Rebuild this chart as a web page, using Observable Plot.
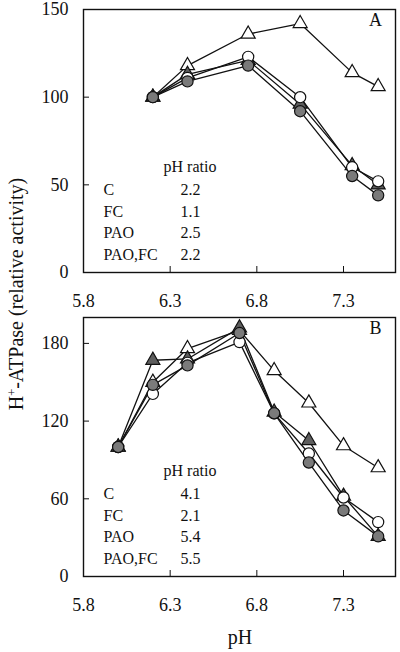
<!DOCTYPE html>
<html><head><meta charset="utf-8">
<script src="https://cdn.jsdelivr.net/npm/d3@7"></script>
<script src="https://cdn.jsdelivr.net/npm/@observablehq/plot@0.6"></script>
<style>
body{margin:0;background:#fff}
#wrap{position:relative;width:400px;height:652px;font-family:"Liberation Serif",serif;color:#111;overflow:hidden}
#a,#b{position:absolute;left:0}
#a{top:0}
#b{top:312px}
#ytitle{position:absolute;left:16px;top:294px;transform:translate(-50%,-50%) rotate(-90deg);white-space:nowrap;font-size:20px;line-height:1}
#ytitle sup{font-size:0.62em;vertical-align:0.55em;line-height:0}
#xtitle{position:absolute;left:240px;top:637px;transform:translate(-50%,-50%);font-size:20px;line-height:1}
</style></head><body>
<div id="wrap"><div id="a"></div><div id="b"></div>
<div id="ytitle">H<sup>+</sup>-ATPase (relative activity)</div>
<div id="xtitle">pH</div></div>
<script>
// Panel A
const pHA = [6.2, 6.4, 6.75, 7.05, 7.35, 7.5];
const aOpenTriangle = [100, 118, 136, 142, 114, 106];
const aFilledTriangle = [100, 113, 121, 96, 61, 50];
const aOpenCircle = [100, 111, 123, 100, 60, 52];
const aFilledCircle = [100, 109, 118, 92, 55, 44];
// Panel B
const pHB = [6.0, 6.2, 6.4, 6.7, 6.9, 7.1, 7.3, 7.5];
const bOpenTriangle = [100, 150, 176, 190, 159, 134, 101, 84];
const bFilledTriangle = [100, 167, 168, 192, 127, 105, 62, 31];
const bOpenCircle = [100, 141, 165, 181, 126, 95, 61, 42];
const bFilledCircle = [100, 148, 163, 188, 126, 88, 51, 31];
// Legend / ticks
const legendTreatments = ["C", "FC", "PAO", "PAO,FC"];
const ratiosA = ["2.2", "1.1", "2.5", "2.2"];
const ratiosB = ["4.1", "2.1", "5.4", "5.5"];
const legendHeader = "pH ratio";
const xTicks = [5.8, 6.3, 6.8, 7.3];
const yTicksA = [0, 50, 100, 150];
const yTicksB = [0, 60, 120, 180];

const styles = {
  openTriangle: {symbol: "triangle", fill: "white", r: 5.2},
  filledTriangle: {symbol: "triangle", fill: "#5e5e5e", r: 5.2},
  openCircle: {symbol: "circle", fill: "white", r: 5.6},
  filledCircle: {symbol: "circle", fill: "#7a7a7a", r: 5.6}
};

function panel({pH, series, yDomain, yTicks, ratios, letter, height, marginTop, marginBottom}) {
  const rows = series.flatMap(([name, vals]) => vals.map((v, i) => ({series: name, pH: pH[i], v})));
  const dotMarks = Object.entries(styles).map(([name, s]) =>
    Plot.dot(rows.filter(d => d.series === name), {x: "pH", y: "v", symbol: s.symbol, fill: s.fill, r: s.r, stroke: "#111", strokeWidth: 1.2})
  );
  return Plot.plot({
    width: 400, height, marginLeft: 83, marginRight: 5, marginTop, marginBottom,
    style: {fontFamily: "'Liberation Serif', serif", fontSize: "18px", color: "#111", background: "white", overflow: "visible"},
    x: {domain: [5.8, 7.6]},
    y: {domain: yDomain},
    marks: [
      Plot.axisX({ticks: xTicks, tickSize: -6, tickPadding: 28, tickFormat: d => d.toFixed(1), label: null}),
      Plot.axisY({ticks: yTicks, tickSize: -6, tickPadding: 21, label: null}),
      Plot.frame({stroke: "#111", strokeWidth: 1.4}),
      Plot.line(rows, {x: "pH", y: "v", z: "series", stroke: "#111", strokeWidth: 1.3}),
      ...dotMarks,
      Plot.text([legendHeader], {text: d => d, frameAnchor: "bottom-left", dx: 80, dy: -106, textAnchor: "start", lineAnchor: "middle", fontSize: 16}),
      Plot.text([legendTreatments.join("\n")], {text: d => d, frameAnchor: "bottom-left", dx: 20, dy: -52, textAnchor: "start", lineAnchor: "middle", lineHeight: 1.34, fontSize: 16}),
      Plot.text([ratios.join("\n")], {text: d => d, frameAnchor: "bottom-left", dx: 97, dy: -52, textAnchor: "start", lineAnchor: "middle", lineHeight: 1.34, fontSize: 16}),
      Plot.text([letter], {text: d => d, frameAnchor: "top-right", dx: -20, dy: 11, textAnchor: "middle", lineAnchor: "middle", fontSize: 18})
    ]
  });
}

document.getElementById("a").append(panel({
  pH: pHA,
  series: [["openTriangle", aOpenTriangle], ["filledTriangle", aFilledTriangle], ["openCircle", aOpenCircle], ["filledCircle", aFilledCircle]],
  yDomain: [0, 150], yTicks: yTicksA, ratios: ratiosA, letter: "A",
  height: 312, marginTop: 9, marginBottom: 40
}));
document.getElementById("b").append(panel({
  pH: pHB,
  series: [["openTriangle", bOpenTriangle], ["filledTriangle", bFilledTriangle], ["openCircle", bOpenCircle], ["filledCircle", bFilledCircle]],
  yDomain: [0, 200], yTicks: yTicksB, ratios: ratiosB, letter: "B",
  height: 340, marginTop: 5, marginBottom: 76
}));
</script>
</body></html>
